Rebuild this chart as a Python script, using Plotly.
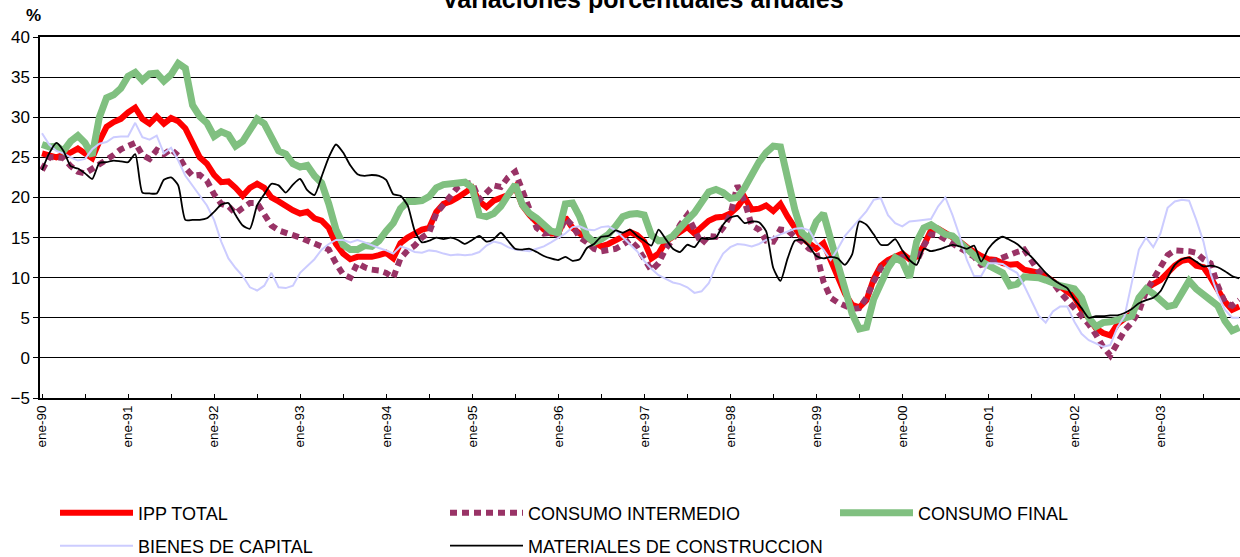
import plotly.graph_objects as go

# ---------------- data ----------------
MESES = ["ene", "feb", "mar", "abr", "may", "jun", "jul", "ago", "sep", "oct", "nov", "dic"]
YEARS = list(range(1990, 2004))
months = [f"{m}-{y % 100:02d}" for y in YEARS for m in MESES]

ipp_total = [
    25.5, 25.3, 25.0, 25.3, 25.6, 26.1, 25.5, 24.9, 27.0, 28.8, 29.4, 29.8, 30.6, 31.2, 29.8, 29.2,
    30.1, 29.2, 29.9, 29.5, 28.6, 26.6, 25.0, 24.2, 22.8, 21.9, 22.0, 21.2, 20.2, 21.2, 21.7,
    21.2, 20.0, 19.5, 18.9, 18.4, 18.0, 18.2, 17.4, 17.1, 16.2, 14.2, 13.0, 12.3, 12.6, 12.6,
    12.6, 12.8, 13.1, 12.4, 14.3, 15.0, 15.6, 16.0, 16.2, 18.2, 19.2, 19.5, 20.0, 20.5, 21.2, 19.5,
    18.8, 19.6, 20.0, 20.3, 21.3, 19.0, 17.8, 16.9, 16.0, 15.5, 15.5, 17.5, 16.2, 15.5, 14.9,
    14.3, 13.9, 14.2, 14.6, 15.1, 15.7, 15.3, 14.5, 12.4, 13.0, 14.5, 15.1, 15.6, 16.3, 15.5,
    16.2, 17.1, 17.5, 17.6, 18.0, 18.8, 20.0, 18.5, 18.6, 19.0, 18.3, 19.2, 17.6, 16.1, 14.9, 14.3,
    13.6, 14.3, 12.2, 10.1, 8.0, 6.6, 6.3, 7.2, 9.8, 11.5, 12.2, 12.6, 13.0, 12.3, 12.6,
    14.0, 15.9, 16.1, 15.6, 15.1, 14.5, 13.8, 13.2, 12.7, 12.3, 12.2, 11.8, 11.6, 11.7, 11.0, 10.8,
    10.6, 10.2, 9.6, 8.8, 8.4, 7.6, 6.0, 5.0, 3.7, 3.1, 2.8, 4.2, 4.9, 5.5, 7.3,
    8.6, 9.2, 9.7, 10.6, 11.5, 12.1, 12.3, 11.5, 11.3, 10.0, 8.6, 7.0, 6.0, 6.4,
]

consumo_intermedio = [
    23.4, 25.0, 25.0, 24.9, 23.9, 23.2, 23.0, 23.5, 24.2, 24.7, 25.3, 26.0, 26.4, 26.8, 25.3, 24.8,
    25.9, 25.4, 26.0, 25.2, 23.7, 22.7, 22.8, 22.1, 20.4, 19.2, 18.9, 18.0, 18.7, 19.3, 19.3,
    17.8, 16.5, 15.9, 15.5, 15.3, 15.0, 14.6, 14.2, 13.7, 13.5, 11.8, 10.4, 10.0, 11.8, 11.3,
    11.0, 10.9, 10.6, 10.0, 12.4, 13.4, 14.0, 15.0, 15.6, 18.0, 19.2, 20.2, 21.3, 21.7, 21.8, 19.7,
    20.5, 21.5, 21.3, 22.5, 23.2, 20.7, 18.2, 16.2, 15.5, 15.6, 15.3, 17.4, 16.5, 15.0, 14.4,
    13.6, 13.3, 13.4, 13.6, 14.1, 14.7, 13.8, 12.3, 10.9, 11.8, 13.6, 14.8, 16.6, 17.8, 16.0,
    14.2, 15.2, 15.1, 16.2, 17.8, 21.5, 19.5, 16.5, 16.0, 14.6, 14.5, 16.0, 15.9, 15.1, 14.5, 13.6,
    13.2, 9.5, 7.5, 6.9, 6.4, 6.1, 6.2, 7.5, 9.5, 11.2, 11.8, 12.3, 12.6, 12.4, 12.0,
    14.0, 15.4, 15.3, 14.8, 14.4, 13.8, 13.2, 12.6, 11.6, 11.8, 12.2, 12.5, 12.8, 13.2, 13.5, 12.0,
    10.8, 10.0, 9.4, 8.2, 7.2, 6.2, 5.0, 4.2, 2.9, 1.4, 0.3, 2.0, 3.4, 4.4, 5.8,
    8.3, 9.8, 11.2, 12.8, 13.4, 13.4, 13.3, 13.1, 12.3, 11.8, 9.0, 6.9, 6.5, 7.2,
]

consumo_final = [
    26.6, 26.3, 26.4, 25.8, 27.0, 27.7, 26.8, 25.2, 30.0, 32.4, 32.8, 33.6, 35.1, 35.6, 34.6, 35.4,
    35.5, 34.5, 35.3, 36.7, 36.1, 31.5, 30.1, 29.3, 27.6, 28.2, 27.8, 26.4, 27.0, 28.4, 29.8,
    29.2, 27.6, 25.8, 25.4, 24.2, 23.8, 24.0, 22.7, 21.8, 19.2, 16.0, 14.1, 13.5, 13.5, 14.0,
    13.9, 14.6, 15.8, 16.8, 18.6, 19.5, 19.5, 19.6, 20.1, 21.2, 21.6, 21.6, 21.8, 21.9, 21.2, 17.8,
    17.6, 18.0, 18.9, 20.3, 21.6, 19.1, 18.0, 17.4, 16.7, 15.8, 15.6, 19.2, 19.3, 17.6, 15.2,
    14.4, 14.8, 15.4, 16.4, 17.6, 17.9, 18.0, 17.8, 15.3, 14.6, 14.7, 15.2, 16.3, 17.2, 18.1,
    19.5, 20.7, 21.0, 20.6, 19.9, 20.0, 21.2, 23.0, 24.4, 25.6, 26.4, 26.3, 22.2, 18.5, 15.6, 14.8,
    17.0, 18.0, 14.8, 11.9, 9.0, 5.5, 3.6, 3.8, 7.3, 9.3, 11.2, 12.5, 12.0, 10.0, 14.5,
    16.2, 16.6, 16.0, 15.4, 15.2, 14.3, 13.6, 12.8, 12.0, 11.5, 11.0, 10.6, 9.0, 9.2, 10.1, 10.1,
    10.0, 9.7, 9.3, 9.0, 8.8, 8.6, 7.5, 5.0, 3.9, 4.4, 4.5, 4.7, 4.8, 5.2, 7.5,
    8.6, 8.0, 7.1, 6.4, 6.6, 8.3, 9.6, 8.6, 7.8, 7.2, 6.5, 4.6, 3.4, 3.8,
]

bienes_capital = [
    28.0, 26.6, 25.8, 25.5, 25.0, 24.6, 24.8, 26.0, 26.7, 26.9, 27.5, 27.6, 27.6, 29.3, 27.5, 27.2,
    27.7, 25.5, 26.2, 24.6, 22.7, 21.5, 20.3, 19.0, 17.2, 14.5, 12.4, 11.2, 10.2, 8.8, 8.4,
    9.0, 10.6, 8.8, 8.7, 9.0, 10.6, 11.5, 12.3, 13.5, 14.2, 14.7, 14.7, 14.4, 14.7, 14.4,
    14.0, 13.7, 13.4, 13.0, 13.9, 13.6, 13.2, 13.1, 13.4, 13.3, 13.0, 12.8, 12.9, 12.8, 12.9, 13.2,
    14.0, 14.5, 14.3, 13.8, 13.5, 13.4, 13.3, 13.6, 13.9, 14.4, 14.9, 15.5, 16.3, 16.4, 16.0,
    15.9, 16.3, 16.4, 15.9, 15.0, 14.2, 13.3, 12.1, 11.1, 10.3, 9.8, 9.4, 9.2, 8.8, 8.1,
    8.3, 9.3, 11.4, 13.0, 13.8, 14.2, 14.1, 13.9, 14.2, 14.7, 15.0, 15.4, 15.8, 16.1, 16.2, 15.9,
    14.4, 13.5, 12.2, 13.6, 15.2, 16.2, 17.3, 18.3, 19.7, 19.9, 17.8, 16.8, 16.4, 17.0, 17.1,
    17.2, 17.3, 18.9, 20.0, 17.8, 15.2, 12.2, 10.2, 10.2, 11.8, 11.8, 11.7, 11.1, 10.6, 9.0, 7.2,
    5.3, 4.4, 5.8, 6.4, 6.4, 4.5, 3.0, 2.2, 1.8, 1.4, 1.6, 3.8, 5.2, 9.5, 13.5,
    15.0, 13.8, 15.5, 18.7, 19.5, 19.7, 19.6, 17.2, 14.5, 10.5, 7.9, 6.0, 5.0, 5.0,
]

materiales_construccion = [
    23.4, 25.5, 26.8, 25.8, 23.9, 23.6, 23.0, 22.3, 24.3, 24.4, 24.6, 24.5, 24.4, 25.4, 20.6, 20.5,
    20.5, 22.2, 22.5, 21.5, 17.2, 17.2, 17.2, 17.4, 18.2, 19.1, 19.3, 17.8, 16.5, 16.1, 19.0,
    20.4, 21.7, 21.5, 20.6, 21.6, 22.3, 20.9, 20.3, 22.6, 25.0, 26.6, 25.6, 24.0, 22.9, 22.7,
    22.8, 22.7, 22.2, 20.4, 20.2, 19.0, 15.8, 14.4, 14.6, 15.0, 14.8, 15.0, 14.7, 14.2, 14.7, 15.2,
    14.5, 14.8, 15.6, 14.6, 13.6, 13.5, 13.6, 13.2, 12.7, 12.4, 12.2, 12.6, 12.1, 12.3, 13.7,
    14.2, 15.1, 15.2, 15.9, 15.6, 16.0, 15.2, 14.6, 14.0, 16.0, 14.8, 13.6, 13.2, 14.1, 13.8,
    14.9, 14.8, 15.0, 16.6, 17.5, 17.7, 16.8, 17.0, 16.9, 15.8, 11.2, 9.6, 12.4, 14.6, 14.7, 13.9,
    12.7, 12.4, 12.6, 12.4, 11.6, 12.9, 17.0, 16.6, 15.4, 14.1, 14.1, 14.8, 13.4, 12.2, 11.6,
    13.6, 13.3, 13.5, 13.8, 14.1, 13.9, 13.6, 14.0, 12.0, 13.6, 14.6, 15.1, 14.7, 14.2, 13.4, 12.6,
    11.6, 10.6, 9.8, 9.2, 8.7, 7.3, 6.2, 5.0, 5.2, 5.2, 5.3, 5.3, 5.6, 6.1, 6.8,
    7.2, 7.5, 8.3, 10.0, 11.6, 12.3, 12.5, 12.0, 11.4, 11.5, 11.3, 10.8, 10.2, 9.9,
]

series_names = ["IPP TOTAL", "CONSUMO INTERMEDIO", "CONSUMO FINAL",
                "BIENES DE CAPITAL", "MATERIALES DE CONSTRUCCION"]
y_ticks = list(range(-5, 41, 5))
tick_months = months[::6]
tick_labels = [m if m.startswith("ene") else "" for m in tick_months]

for s in (ipp_total, consumo_intermedio, consumo_final, bienes_capital, materiales_construccion):
    assert len(s) == len(months)

# ---------------- figure ----------------
FONT = "Arial, Liberation Sans, sans-serif"
fig = go.Figure()

styles = [
    dict(color="#FF0000", width=6),
    dict(color="#993366", width=6, dash="7px,5px"),
    dict(color="#80C080", width=7),
    dict(color="#CCCCFF", width=2),
    dict(color="#000000", width=1.8, shape="spline", smoothing=0.6),
]
data = [ipp_total, consumo_intermedio, consumo_final, bienes_capital, materiales_construccion]
legends = ["legend", "legend", "legend", "legend2", "legend2"]

for name, vals, st, lg in zip(series_names, data, styles, legends):
    fig.add_trace(go.Scatter(x=months, y=vals, mode="lines", name=name,
                             line=st, legend=lg))

W, H = 1240, 557
L, R, T, B = 40, 0, 37, 159
pw, ph = W - L - R, H - T - B

def px_x(x):
    return (x - L) / pw

def px_y(y):
    return (H - B - y) / ph

legend_common = dict(orientation="h", xanchor="left", yanchor="middle",
                     entrywidth=302, entrywidthmode="pixels", itemwidth=73,
                     font=dict(size=18), bgcolor="rgba(0,0,0,0)", traceorder="normal")

fig.update_layout(
    width=W, height=H,
    margin=dict(l=L, r=R, t=T, b=B, pad=0, autoexpand=False),
    paper_bgcolor="white", plot_bgcolor="white",
    font=dict(family=FONT, color="black", size=17),
    showlegend=True,
    legend=dict(x=px_x(55), y=px_y(513), **legend_common),
    legend2=dict(x=px_x(55), y=px_y(546), **legend_common),
    xaxis=dict(type="category", categoryorder="array", categoryarray=months,
               range=[-0.28, 167.1], automargin=False,
               tickmode="array", tickvals=tick_months, ticktext=tick_labels,
               tickangle=-90, tickfont=dict(size=13.5),
               ticks="inside", ticklen=4, tickcolor="black",
               showgrid=False, showline=True, linecolor="black", linewidth=2,
               mirror=True, zeroline=False),
    yaxis=dict(range=[-5, 40], tickmode="array", tickvals=y_ticks, automargin=False,
               ticks="outside", ticklen=5, tickcolor="black",
               tickfont=dict(size=17),
               showgrid=True, gridcolor="black", gridwidth=1,
               showline=True, linecolor="black", linewidth=1.5,
               zeroline=False),
    annotations=[
        dict(text="<b>Variaciones porcentuales anuales</b>", xref="paper", yref="paper",
             x=px_x(643), y=px_y(-1), xanchor="center", yanchor="middle",
             showarrow=False, font=dict(size=25, family=FONT)),
        dict(text="<b>%</b>", xref="paper", yref="paper",
             x=px_x(33), y=px_y(16), xanchor="center", yanchor="middle",
             showarrow=False, font=dict(size=17, family=FONT)),
    ],
)

fig.write_html(
    "out.html",
    config={"displayModeBar": False},
    post_script="document.body.style.margin='0';document.body.style.overflow='hidden';",
)
